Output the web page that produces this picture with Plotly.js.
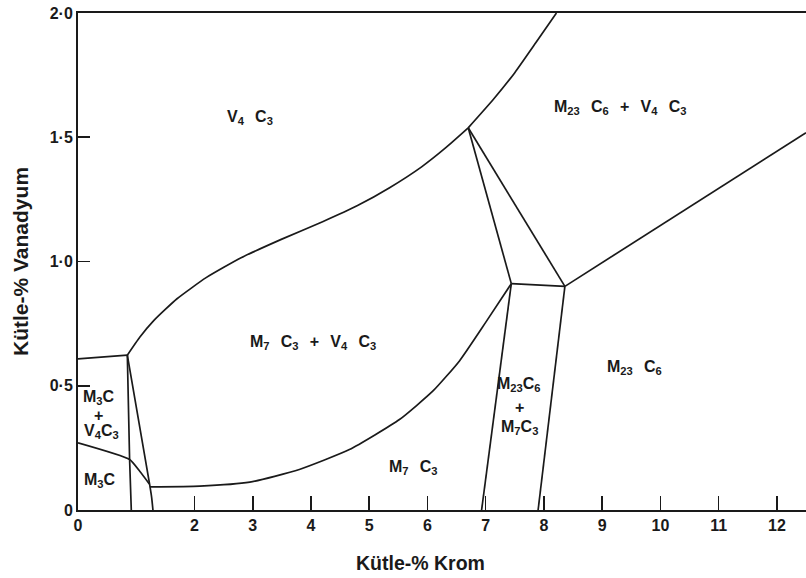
<!DOCTYPE html>
<html>
<head>
<meta charset="utf-8">
<script src="https://cdn.plot.ly/plotly-3.0.1.min.js"></script>
<style>
  html, body { margin: 0; padding: 0; background: #ffffff; }
  #chart { width: 806px; height: 578px; }
</style>
</head>
<body>
<div id="chart"></div>
<script>
// Fe–Cr–V–C isothermal section: carbide phase fields versus Cr and V content (wt.%)

// --- phase boundaries: x = Kütle-% Krom, y = Kütle-% Vanadyum ---
// M3C+V4C3 field, upper edge
const m3cTopX = [0, 0.847];
const m3cTopY = [0.608, 0.623];
// M3C+V4C3 / M3C right edge (near-vertical)
const m3cRightX = [0.847, 0.886, 0.915];
const m3cRightY = [0.623, 0.203, 0];
// M3C / M3C+V4C3 lower edge
const m3cLowX = [0, 0.886, 1.06, 1.225];
const m3cLowY = [0.270, 0.203, 0.156, 0.105];
// steep boundary from the triple point down to the Cr axis
const steepX = [0.847, 1.23, 1.265, 1.287];
const steepY = [0.623, 0.103, 0.05, 0];
// M7C3 / M7C3+V4C3 boundary
const m7LowX = [1.235, 2.09, 2.95, 3.80, 4.66, 5.52, 6.10, 6.55, 7.00, 7.44];
const m7LowY = [0.093, 0.096, 0.112, 0.163, 0.243, 0.364, 0.480, 0.600, 0.755, 0.911];
// V4C3 / M7C3+V4C3 boundary
const v4cUpX = [0.847, 1.06, 1.30, 1.70, 2.20, 2.80, 3.50, 4.20, 4.80, 5.35, 5.90, 6.30, 6.70];
const v4cUpY = [0.623, 0.695, 0.762, 0.850, 0.935, 1.015, 1.090, 1.160, 1.225, 1.297, 1.381, 1.455, 1.538];
// V4C3 / M23C6+V4C3 boundary
const v4cM23X = [6.70, 7.13, 7.50, 7.86, 8.215];
const v4cM23Y = [1.538, 1.652, 1.76, 1.88, 2.0];
// tie lines of the three-phase triangle
const triLeftX = [6.70, 7.44];
const triLeftY = [1.538, 0.911];
const triRightX = [6.70, 8.36];
const triRightY = [1.538, 0.90];
const triBaseX = [7.44, 8.36];
const triBaseY = [0.911, 0.90];
// M23C6+M7C3 band
const bandLeftX = [7.44, 6.93];
const bandLeftY = [0.911, 0];
const bandRightX = [8.36, 7.90];
const bandRightY = [0.90, 0];
// M23C6 / M23C6+V4C3 boundary
const m23UpX = [8.36, 12.5];
const m23UpY = [0.90, 1.518];

// --- axis ticks ---
const xTickVals = [0, 2, 3, 4, 5, 6, 7, 8, 9, 10, 11, 12];
const xTickText = ['0', '2', '3', '4', '5', '6', '7', '8', '9', '10', '11', '12'];
const yTickVals = [0, 0.5, 1.0, 1.5, 2.0];
const yTickText = ['0', '0·5', '1·0', '1·5', '2·0'];

// --- axis titles ---
const xTitle = 'Kütle-% Krom';
const yTitle = 'Kütle-% Vanadyum';

// --- phase field labels ---
const G = '\u2002\u2009';
const fieldText = [
  'V<sub>4</sub>' + G + 'C<sub>3</sub>',
  'M<sub>23</sub>' + G + 'C<sub>6</sub>' + G + '+' + G + 'V<sub>4</sub>' + G + 'C<sub>3</sub>',
  'M<sub>7</sub>' + G + 'C<sub>3</sub>' + G + '+' + G + 'V<sub>4</sub>' + G + 'C<sub>3</sub>',
  'M<sub>7</sub>' + G + 'C<sub>3</sub>',
  'M<sub>23</sub>' + G + 'C<sub>6</sub>',
  'M<sub>23</sub>C<sub>6</sub>',
  '+',
  'M<sub>7</sub>C<sub>3</sub>',
  'M<sub>3</sub>C',
  '+',
  'V<sub>4</sub>C<sub>3</sub>',
  'M<sub>3</sub>C'
];
const fieldX = [2.95, 9.30, 4.03, 5.76, 9.56, 7.58, 7.58, 7.58, 0.36, 0.36, 0.40, 0.37];
const fieldY = [1.58, 1.62, 0.674, 0.171, 0.573, 0.505, 0.412, 0.332, 0.453, 0.38, 0.316, 0.119];

const boundaries = [
  [m3cTopX, m3cTopY], [m3cRightX, m3cRightY], [m3cLowX, m3cLowY], [steepX, steepY],
  [m7LowX, m7LowY], [v4cUpX, v4cUpY], [v4cM23X, v4cM23Y],
  [triLeftX, triLeftY], [triRightX, triRightY], [triBaseX, triBaseY],
  [bandLeftX, bandLeftY], [bandRightX, bandRightY], [m23UpX, m23UpY]
];

const INK = '#1a1a1a';
const FONT = 'Liberation Sans, Arial, Helvetica, sans-serif';

const traces = boundaries.map(function (b) {
  return {
    x: b[0], y: b[1],
    type: 'scatter', mode: 'lines',
    line: { color: INK, width: 1.7, shape: 'spline', smoothing: 0.5 },
    hoverinfo: 'skip', showlegend: false
  };
});

const annotations = fieldText.map(function (t, i) {
  return {
    x: fieldX[i], y: fieldY[i], xref: 'x', yref: 'y',
    text: t, showarrow: false,
    font: { family: FONT, size: 16, color: INK, weight: 'bold' },
    xanchor: 'center', yanchor: 'middle'
  };
});

// axis titles, placed in paper coordinates
annotations.push({
  x: 0.471, y: -0.106, xref: 'paper', yref: 'paper',
  text: xTitle, showarrow: false,
  font: { family: FONT, size: 19.5, color: INK, weight: 'bold' },
  xanchor: 'center', yanchor: 'middle'
});
annotations.push({
  x: -0.079, y: 0.5, xref: 'paper', yref: 'paper',
  text: yTitle, showarrow: false, textangle: -90,
  font: { family: FONT, size: 21, color: INK, weight: 'bold' },
  xanchor: 'center', yanchor: 'middle'
});

const layout = {
  width: 806, height: 578,
  margin: { l: 78, r: 0, t: 13, b: 68 },
  paper_bgcolor: '#ffffff', plot_bgcolor: '#ffffff',
  showlegend: false,
  xaxis: {
    range: [0, 12.5], tickmode: 'array', tickvals: xTickVals, ticktext: xTickText,
    ticks: 'inside', ticklen: 14, tickwidth: 1.6, tickcolor: INK,
    showline: true, linewidth: 2, linecolor: INK, mirror: true,
    showgrid: false, zeroline: false,
    tickfont: { family: FONT, size: 16, color: INK, weight: 'bold' },
    automargin: false
  },
  yaxis: {
    range: [0, 2], tickmode: 'array', tickvals: yTickVals, ticktext: yTickText,
    ticks: 'inside', ticklen: 12, tickwidth: 1.6, tickcolor: INK,
    showline: true, linewidth: 2, linecolor: INK, mirror: false,
    showgrid: false, zeroline: false,
    tickfont: { family: FONT, size: 16, color: INK, weight: 'bold' },
    automargin: false
  },
  annotations: annotations
};

Plotly.newPlot('chart', traces, layout, { displayModeBar: false, staticPlot: true });
</script>
</body>
</html>
